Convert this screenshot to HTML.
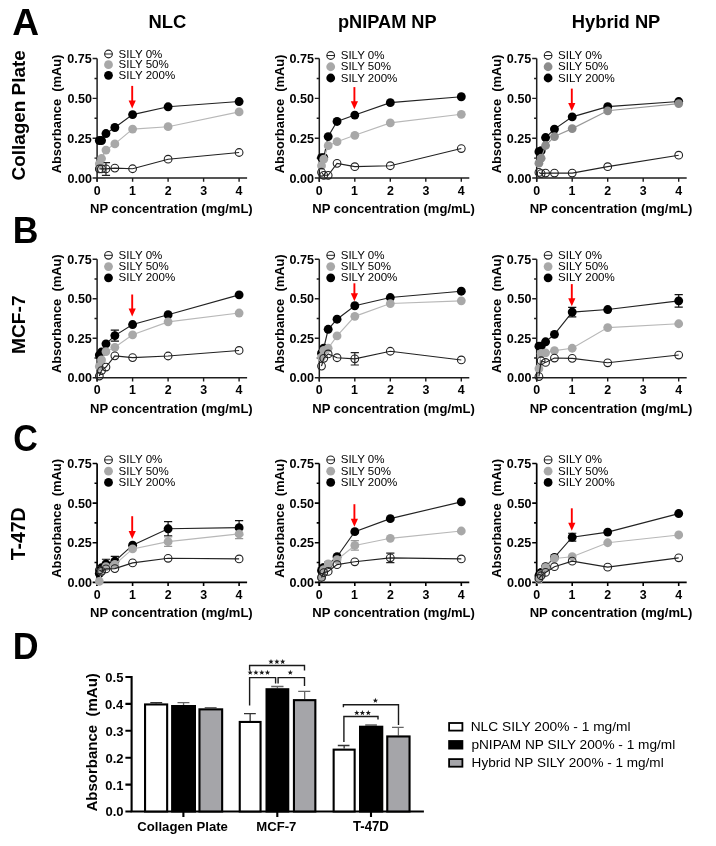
<!DOCTYPE html><html><head><meta charset="utf-8"><style>
html,body{margin:0;padding:0;background:#fff;width:716px;height:846px;overflow:hidden}
svg{display:block;will-change:transform}
text{font-family:"Liberation Sans", sans-serif;fill:#000;white-space:pre}
</style></head><body>
<svg width="716" height="846" viewBox="0 0 716 846">
<text transform="matrix(1.0096 0 0 1 12.17 34.60)" font-size="36.81" font-weight="bold">A</text>
<text transform="matrix(0.9551 0 0 1 12.79 242.70)" font-size="37.25" font-weight="bold">B</text>
<text transform="matrix(0.9191 0 0 1 13.14 450.63)" font-size="37.04" font-weight="bold">C</text>
<text transform="matrix(0.9493 0 0 1 12.77 658.80)" font-size="37.68" font-weight="bold">D</text>
<text transform="matrix(0.9687 0 0 1 148.40 28.11)" font-size="19.01" font-weight="bold">NLC</text>
<text transform="matrix(0.9807 0 0 1 337.92 27.90)" font-size="18.56" font-weight="bold">pNIPAM NP</text>
<text transform="matrix(1.0263 0 0 1 571.81 28.05)" font-size="17.86" font-weight="bold">Hybrid NP</text>
<text transform="matrix(0 -1.0210 1 0 24.72 180.46)" font-size="18.51" font-weight="bold">Collagen Plate</text>
<text transform="matrix(0 -1.0201 1 0 25.11 354.05)" font-size="18.87" font-weight="bold">MCF-7</text>
<text transform="matrix(0 -1.0009 1 0 25.30 560.29)" font-size="19.42" font-weight="bold">T-47D</text>
<path d="M97.1 58.52V181.7M97.1 178H247.1" stroke="#1e1e1e" stroke-width="1.5" fill="none"/>
<path d="M92.6 178H97.1M92.6 138.18H97.1M92.6 98.35H97.1M92.6 58.52H97.1M94.5 158.09H97.1M94.5 118.26H97.1M94.5 78.44H97.1M97.1 178V181.7M132.6 178V181.7M168.1 178V181.7M203.6 178V181.7M239.1 178V181.7" stroke="#1e1e1e" stroke-width="1.4" fill="none"/>
<text transform="matrix(1.0500 0 0 1 67.40 182.55)" font-size="12.00" font-weight="bold">0.00</text>
<text transform="matrix(1.0500 0 0 1 67.21 142.73)" font-size="12.00" font-weight="bold">0.25</text>
<text transform="matrix(1.0500 0 0 1 67.40 102.90)" font-size="12.00" font-weight="bold">0.50</text>
<text transform="matrix(1.0500 0 0 1 67.21 63.07)" font-size="12.00" font-weight="bold">0.75</text>
<text transform="matrix(1.0000 0 0 1 93.66 194.68)" font-size="12.40" font-weight="bold">0</text>
<text transform="matrix(1.0000 0 0 1 128.91 194.56)" font-size="12.40" font-weight="bold">1</text>
<text transform="matrix(1.0000 0 0 1 164.69 194.68)" font-size="12.40" font-weight="bold">2</text>
<text transform="matrix(1.0000 0 0 1 200.22 194.68)" font-size="12.40" font-weight="bold">3</text>
<text transform="matrix(1.0000 0 0 1 235.60 194.56)" font-size="12.40" font-weight="bold">4</text>
<text transform="matrix(1.0047 0 0 1 90.05 212.81)" font-size="12.98" font-weight="bold">NP concentration (mg/mL)</text>
<text transform="matrix(0 -0.9875 1 0 61.36 173.32)" font-size="13.05" font-weight="bold">Absorbance  (mAu)</text>
<circle cx="108.5" cy="54" r="3.85" fill="#fff" stroke="#222" stroke-width="1.1"/><path d="M104.65 54H112.35" stroke="#222" stroke-width="1"/>
<circle cx="108.5" cy="64.65" r="4.4" fill="#a8a8a8"/>
<circle cx="108.5" cy="75.3" r="4.4" fill="#000"/>
<text transform="matrix(1.0500 0 0 1 118.48 57.50)" font-size="11.00" fill="#262626">SILY 0%</text>
<text transform="matrix(1.0500 0 0 1 118.48 68.15)" font-size="11.00" fill="#262626">SILY 50%</text>
<text transform="matrix(1.0500 0 0 1 118.48 78.80)" font-size="11.00" fill="#262626">SILY 200%</text>
<path d="M132.2 85.9V101.4" stroke="#ff0000" stroke-width="1.9"/><path d="M128.6 100.4H135.8L132.2 108.4Z" fill="#ff0000"/>
<path d="M105.97 162.55V175.29M101.88 162.55H110.07M101.88 175.29H110.07" stroke="#222" stroke-width="1.2" fill="none"/>
<path d="M99.32 140.56L101.54 140.56L105.97 133.56L114.85 127.5L132.6 114.6L168.1 106.79L239.1 101.54" stroke="#222" stroke-width="1.15" fill="none"/>
<circle cx="99.32" cy="140.56" r="4.45" fill="#000"/>
<circle cx="101.54" cy="140.56" r="4.45" fill="#000"/>
<circle cx="105.97" cy="133.56" r="4.45" fill="#000"/>
<circle cx="114.85" cy="127.5" r="4.45" fill="#000"/>
<circle cx="132.6" cy="114.6" r="4.45" fill="#000"/>
<circle cx="168.1" cy="106.79" r="4.45" fill="#000"/>
<circle cx="239.1" cy="101.54" r="4.45" fill="#000"/>
<path d="M99.32 163.82L101.54 158.49L105.97 150.12L114.85 143.91L132.6 129.09L168.1 126.71L239.1 111.89" stroke="#b8b8b8" stroke-width="1.15" fill="none"/>
<circle cx="99.32" cy="163.82" r="4.4" fill="#a8a8a8"/>
<circle cx="101.54" cy="158.49" r="4.4" fill="#a8a8a8"/>
<circle cx="105.97" cy="150.12" r="4.4" fill="#a8a8a8"/>
<circle cx="114.85" cy="143.91" r="4.4" fill="#a8a8a8"/>
<circle cx="132.6" cy="129.09" r="4.4" fill="#a8a8a8"/>
<circle cx="168.1" cy="126.71" r="4.4" fill="#a8a8a8"/>
<circle cx="239.1" cy="111.89" r="4.4" fill="#a8a8a8"/>
<path d="M99.32 168.92L101.54 168.92L105.97 168.92L114.85 168.12L132.6 168.76L168.1 159.2L239.1 152.51" stroke="#222" stroke-width="1.15" fill="none"/>
<circle cx="99.32" cy="168.92" r="3.85" fill="none" stroke="#222" stroke-width="1.1"/>
<circle cx="101.54" cy="168.92" r="3.85" fill="none" stroke="#222" stroke-width="1.1"/>
<circle cx="105.97" cy="168.92" r="3.85" fill="none" stroke="#222" stroke-width="1.1"/>
<circle cx="114.85" cy="168.12" r="3.85" fill="none" stroke="#222" stroke-width="1.1"/>
<circle cx="132.6" cy="168.76" r="3.85" fill="none" stroke="#222" stroke-width="1.1"/>
<circle cx="168.1" cy="159.2" r="3.85" fill="none" stroke="#222" stroke-width="1.1"/>
<circle cx="239.1" cy="152.51" r="3.85" fill="none" stroke="#222" stroke-width="1.1"/>
<path d="M319.3 58.52V181.7M319.3 178H469.3" stroke="#1e1e1e" stroke-width="1.5" fill="none"/>
<path d="M314.8 178H319.3M314.8 138.18H319.3M314.8 98.35H319.3M314.8 58.52H319.3M316.7 158.09H319.3M316.7 118.26H319.3M316.7 78.44H319.3M319.3 178V181.7M354.8 178V181.7M390.3 178V181.7M425.8 178V181.7M461.3 178V181.7" stroke="#1e1e1e" stroke-width="1.4" fill="none"/>
<text transform="matrix(1.0500 0 0 1 289.60 182.55)" font-size="12.00" font-weight="bold">0.00</text>
<text transform="matrix(1.0500 0 0 1 289.41 142.73)" font-size="12.00" font-weight="bold">0.25</text>
<text transform="matrix(1.0500 0 0 1 289.60 102.90)" font-size="12.00" font-weight="bold">0.50</text>
<text transform="matrix(1.0500 0 0 1 289.41 63.07)" font-size="12.00" font-weight="bold">0.75</text>
<text transform="matrix(1.0000 0 0 1 315.86 194.68)" font-size="12.40" font-weight="bold">0</text>
<text transform="matrix(1.0000 0 0 1 351.11 194.56)" font-size="12.40" font-weight="bold">1</text>
<text transform="matrix(1.0000 0 0 1 386.89 194.68)" font-size="12.40" font-weight="bold">2</text>
<text transform="matrix(1.0000 0 0 1 422.42 194.68)" font-size="12.40" font-weight="bold">3</text>
<text transform="matrix(1.0000 0 0 1 457.80 194.56)" font-size="12.40" font-weight="bold">4</text>
<text transform="matrix(1.0047 0 0 1 312.25 212.81)" font-size="12.98" font-weight="bold">NP concentration (mg/mL)</text>
<text transform="matrix(0 -0.9875 1 0 283.56 173.32)" font-size="13.05" font-weight="bold">Absorbance  (mAu)</text>
<circle cx="330.7" cy="55.5" r="3.85" fill="#fff" stroke="#222" stroke-width="1.1"/><path d="M326.85 55.5H334.55" stroke="#222" stroke-width="1"/>
<circle cx="330.7" cy="66.75" r="4.4" fill="#a8a8a8"/>
<circle cx="330.7" cy="78" r="4.4" fill="#000"/>
<text transform="matrix(1.0500 0 0 1 340.68 58.80)" font-size="11.00" fill="#262626">SILY 0%</text>
<text transform="matrix(1.0500 0 0 1 340.68 70.15)" font-size="11.00" fill="#262626">SILY 50%</text>
<text transform="matrix(1.0500 0 0 1 340.68 81.50)" font-size="11.00" fill="#262626">SILY 200%</text>
<path d="M354.4 87.1V102.3" stroke="#ff0000" stroke-width="1.9"/><path d="M350.8 101.3H358L354.4 109.3Z" fill="#ff0000"/>
<path d="M321.52 157.61L323.74 157.61L328.18 136.58L337.05 121.45L354.8 115.08L390.3 102.65L461.3 96.76" stroke="#222" stroke-width="1.15" fill="none"/>
<circle cx="321.52" cy="157.61" r="4.45" fill="#000"/>
<circle cx="323.74" cy="157.61" r="4.45" fill="#000"/>
<circle cx="328.18" cy="136.58" r="4.45" fill="#000"/>
<circle cx="337.05" cy="121.45" r="4.45" fill="#000"/>
<circle cx="354.8" cy="115.08" r="4.45" fill="#000"/>
<circle cx="390.3" cy="102.65" r="4.45" fill="#000"/>
<circle cx="461.3" cy="96.76" r="4.45" fill="#000"/>
<path d="M321.52 165.73L323.74 159.2L328.18 145.66L337.05 141.68L354.8 135.31L390.3 122.88L461.3 114.28" stroke="#b8b8b8" stroke-width="1.15" fill="none"/>
<circle cx="321.52" cy="165.73" r="4.4" fill="#a8a8a8"/>
<circle cx="323.74" cy="159.2" r="4.4" fill="#a8a8a8"/>
<circle cx="328.18" cy="145.66" r="4.4" fill="#a8a8a8"/>
<circle cx="337.05" cy="141.68" r="4.4" fill="#a8a8a8"/>
<circle cx="354.8" cy="135.31" r="4.4" fill="#a8a8a8"/>
<circle cx="390.3" cy="122.88" r="4.4" fill="#a8a8a8"/>
<circle cx="461.3" cy="114.28" r="4.4" fill="#a8a8a8"/>
<path d="M321.52 172.27L323.74 175.29L328.18 175.29L337.05 163.34L354.8 166.69L390.3 165.73L461.3 148.53" stroke="#222" stroke-width="1.15" fill="none"/>
<circle cx="321.52" cy="172.27" r="3.85" fill="none" stroke="#222" stroke-width="1.1"/>
<circle cx="323.74" cy="175.29" r="3.85" fill="none" stroke="#222" stroke-width="1.1"/>
<circle cx="328.18" cy="175.29" r="3.85" fill="none" stroke="#222" stroke-width="1.1"/>
<circle cx="337.05" cy="163.34" r="3.85" fill="none" stroke="#222" stroke-width="1.1"/>
<circle cx="354.8" cy="166.69" r="3.85" fill="none" stroke="#222" stroke-width="1.1"/>
<circle cx="390.3" cy="165.73" r="3.85" fill="none" stroke="#222" stroke-width="1.1"/>
<circle cx="461.3" cy="148.53" r="3.85" fill="none" stroke="#222" stroke-width="1.1"/>
<path d="M536.7 58.52V181.7M536.7 178H686.7" stroke="#1e1e1e" stroke-width="1.5" fill="none"/>
<path d="M532.2 178H536.7M532.2 138.18H536.7M532.2 98.35H536.7M532.2 58.52H536.7M534.1 158.09H536.7M534.1 118.26H536.7M534.1 78.44H536.7M536.7 178V181.7M572.2 178V181.7M607.7 178V181.7M643.2 178V181.7M678.7 178V181.7" stroke="#1e1e1e" stroke-width="1.4" fill="none"/>
<text transform="matrix(1.0500 0 0 1 507.00 182.55)" font-size="12.00" font-weight="bold">0.00</text>
<text transform="matrix(1.0500 0 0 1 506.81 142.73)" font-size="12.00" font-weight="bold">0.25</text>
<text transform="matrix(1.0500 0 0 1 507.00 102.90)" font-size="12.00" font-weight="bold">0.50</text>
<text transform="matrix(1.0500 0 0 1 506.81 63.07)" font-size="12.00" font-weight="bold">0.75</text>
<text transform="matrix(1.0000 0 0 1 533.26 194.68)" font-size="12.40" font-weight="bold">0</text>
<text transform="matrix(1.0000 0 0 1 568.51 194.56)" font-size="12.40" font-weight="bold">1</text>
<text transform="matrix(1.0000 0 0 1 604.29 194.68)" font-size="12.40" font-weight="bold">2</text>
<text transform="matrix(1.0000 0 0 1 639.82 194.68)" font-size="12.40" font-weight="bold">3</text>
<text transform="matrix(1.0000 0 0 1 675.20 194.56)" font-size="12.40" font-weight="bold">4</text>
<text transform="matrix(1.0047 0 0 1 529.65 212.81)" font-size="12.98" font-weight="bold">NP concentration (mg/mL)</text>
<text transform="matrix(0 -0.9875 1 0 500.96 173.32)" font-size="13.05" font-weight="bold">Absorbance  (mAu)</text>
<circle cx="548.1" cy="55.5" r="3.85" fill="#fff" stroke="#222" stroke-width="1.1"/><path d="M544.25 55.5H551.95" stroke="#222" stroke-width="1"/>
<circle cx="548.1" cy="66.75" r="4.4" fill="#8c8c8c"/>
<circle cx="548.1" cy="78" r="4.4" fill="#000"/>
<text transform="matrix(1.0500 0 0 1 558.08 58.80)" font-size="11.00" fill="#262626">SILY 0%</text>
<text transform="matrix(1.0500 0 0 1 558.08 70.15)" font-size="11.00" fill="#262626">SILY 50%</text>
<text transform="matrix(1.0500 0 0 1 558.08 81.50)" font-size="11.00" fill="#262626">SILY 200%</text>
<path d="M571.8 88.6V104" stroke="#ff0000" stroke-width="1.9"/><path d="M568.2 103H575.4L571.8 111Z" fill="#ff0000"/>
<path d="M538.92 151.72L541.14 150.76L545.58 137.54L554.45 129.09L572.2 116.83L607.7 106.63L678.7 101.54" stroke="#222" stroke-width="1.15" fill="none"/>
<circle cx="538.92" cy="151.72" r="4.45" fill="#000"/>
<circle cx="541.14" cy="150.76" r="4.45" fill="#000"/>
<circle cx="545.58" cy="137.54" r="4.45" fill="#000"/>
<circle cx="554.45" cy="129.09" r="4.45" fill="#000"/>
<circle cx="572.2" cy="116.83" r="4.45" fill="#000"/>
<circle cx="607.7" cy="106.63" r="4.45" fill="#000"/>
<circle cx="678.7" cy="101.54" r="4.45" fill="#000"/>
<path d="M538.92 163.19L541.14 158.25L545.58 145.5L554.45 136.58L572.2 128.62L607.7 110.78L678.7 103.61" stroke="#999" stroke-width="1.15" fill="none"/>
<circle cx="538.92" cy="163.19" r="4.4" fill="#8c8c8c"/>
<circle cx="541.14" cy="158.25" r="4.4" fill="#8c8c8c"/>
<circle cx="545.58" cy="145.5" r="4.4" fill="#8c8c8c"/>
<circle cx="554.45" cy="136.58" r="4.4" fill="#8c8c8c"/>
<circle cx="572.2" cy="128.62" r="4.4" fill="#8c8c8c"/>
<circle cx="607.7" cy="110.78" r="4.4" fill="#8c8c8c"/>
<circle cx="678.7" cy="103.61" r="4.4" fill="#8c8c8c"/>
<path d="M538.92 172.42L541.14 173.54L545.58 173.06L554.45 173.06L572.2 173.06L607.7 166.69L678.7 155.22" stroke="#222" stroke-width="1.15" fill="none"/>
<circle cx="538.92" cy="172.42" r="3.85" fill="none" stroke="#222" stroke-width="1.1"/>
<circle cx="541.14" cy="173.54" r="3.85" fill="none" stroke="#222" stroke-width="1.1"/>
<circle cx="545.58" cy="173.06" r="3.85" fill="none" stroke="#222" stroke-width="1.1"/>
<circle cx="554.45" cy="173.06" r="3.85" fill="none" stroke="#222" stroke-width="1.1"/>
<circle cx="572.2" cy="173.06" r="3.85" fill="none" stroke="#222" stroke-width="1.1"/>
<circle cx="607.7" cy="166.69" r="3.85" fill="none" stroke="#222" stroke-width="1.1"/>
<circle cx="678.7" cy="155.22" r="3.85" fill="none" stroke="#222" stroke-width="1.1"/>
<path d="M97.1 259.3V381.5M97.1 377.8H247.1" stroke="#1e1e1e" stroke-width="1.5" fill="none"/>
<path d="M92.6 377.8H97.1M92.6 338.3H97.1M92.6 298.8H97.1M92.6 259.3H97.1M94.5 358.05H97.1M94.5 318.55H97.1M94.5 279.05H97.1M97.1 377.8V381.5M132.6 377.8V381.5M168.1 377.8V381.5M203.6 377.8V381.5M239.1 377.8V381.5" stroke="#1e1e1e" stroke-width="1.4" fill="none"/>
<text transform="matrix(1.0500 0 0 1 67.40 382.35)" font-size="12.00" font-weight="bold">0.00</text>
<text transform="matrix(1.0500 0 0 1 67.21 342.85)" font-size="12.00" font-weight="bold">0.25</text>
<text transform="matrix(1.0500 0 0 1 67.40 303.35)" font-size="12.00" font-weight="bold">0.50</text>
<text transform="matrix(1.0500 0 0 1 67.21 263.85)" font-size="12.00" font-weight="bold">0.75</text>
<text transform="matrix(1.0000 0 0 1 93.66 394.48)" font-size="12.40" font-weight="bold">0</text>
<text transform="matrix(1.0000 0 0 1 128.91 394.36)" font-size="12.40" font-weight="bold">1</text>
<text transform="matrix(1.0000 0 0 1 164.69 394.48)" font-size="12.40" font-weight="bold">2</text>
<text transform="matrix(1.0000 0 0 1 200.22 394.48)" font-size="12.40" font-weight="bold">3</text>
<text transform="matrix(1.0000 0 0 1 235.60 394.36)" font-size="12.40" font-weight="bold">4</text>
<text transform="matrix(1.0047 0 0 1 90.05 412.61)" font-size="12.98" font-weight="bold">NP concentration (mg/mL)</text>
<text transform="matrix(0 -0.9875 1 0 61.36 373.12)" font-size="13.05" font-weight="bold">Absorbance  (mAu)</text>
<circle cx="108.5" cy="255.3" r="3.85" fill="#fff" stroke="#222" stroke-width="1.1"/><path d="M104.65 255.3H112.35" stroke="#222" stroke-width="1"/>
<circle cx="108.5" cy="266.55" r="4.4" fill="#a8a8a8"/>
<circle cx="108.5" cy="277.8" r="4.4" fill="#000"/>
<text transform="matrix(1.0500 0 0 1 118.48 258.60)" font-size="11.00" fill="#262626">SILY 0%</text>
<text transform="matrix(1.0500 0 0 1 118.48 269.95)" font-size="11.00" fill="#262626">SILY 50%</text>
<text transform="matrix(1.0500 0 0 1 118.48 281.30)" font-size="11.00" fill="#262626">SILY 200%</text>
<path d="M132.2 294.5V309.6" stroke="#ff0000" stroke-width="1.9"/><path d="M128.6 308.6H135.8L132.2 316.6Z" fill="#ff0000"/>
<path d="M114.85 330.08V341.14M110.75 330.08H118.95M110.75 341.14H118.95" stroke="#111" stroke-width="1.2" fill="none"/>
<path d="M99.32 355.05L101.54 352.05L105.97 343.83L114.85 335.61L132.6 324.55L168.1 314.76L239.1 294.85" stroke="#222" stroke-width="1.15" fill="none"/>
<circle cx="99.32" cy="355.05" r="4.45" fill="#000"/>
<circle cx="101.54" cy="352.05" r="4.45" fill="#000"/>
<circle cx="105.97" cy="343.83" r="4.45" fill="#000"/>
<circle cx="114.85" cy="335.61" r="4.45" fill="#000"/>
<circle cx="132.6" cy="324.55" r="4.45" fill="#000"/>
<circle cx="168.1" cy="314.76" r="4.45" fill="#000"/>
<circle cx="239.1" cy="294.85" r="4.45" fill="#000"/>
<path d="M99.32 366.42L101.54 359.95L105.97 351.57L114.85 347.31L132.6 334.82L168.1 321.87L239.1 313.02" stroke="#b8b8b8" stroke-width="1.15" fill="none"/>
<circle cx="99.32" cy="366.42" r="4.4" fill="#a8a8a8"/>
<circle cx="101.54" cy="359.95" r="4.4" fill="#a8a8a8"/>
<circle cx="105.97" cy="351.57" r="4.4" fill="#a8a8a8"/>
<circle cx="114.85" cy="347.31" r="4.4" fill="#a8a8a8"/>
<circle cx="132.6" cy="334.82" r="4.4" fill="#a8a8a8"/>
<circle cx="168.1" cy="321.87" r="4.4" fill="#a8a8a8"/>
<circle cx="239.1" cy="313.02" r="4.4" fill="#a8a8a8"/>
<path d="M99.32 376.06L101.54 370.53L105.97 367.06L114.85 355.84L132.6 357.58L168.1 356L239.1 350.47" stroke="#222" stroke-width="1.15" fill="none"/>
<circle cx="99.32" cy="376.06" r="3.85" fill="none" stroke="#222" stroke-width="1.1"/>
<circle cx="101.54" cy="370.53" r="3.85" fill="none" stroke="#222" stroke-width="1.1"/>
<circle cx="105.97" cy="367.06" r="3.85" fill="none" stroke="#222" stroke-width="1.1"/>
<circle cx="114.85" cy="355.84" r="3.85" fill="none" stroke="#222" stroke-width="1.1"/>
<circle cx="132.6" cy="357.58" r="3.85" fill="none" stroke="#222" stroke-width="1.1"/>
<circle cx="168.1" cy="356" r="3.85" fill="none" stroke="#222" stroke-width="1.1"/>
<circle cx="239.1" cy="350.47" r="3.85" fill="none" stroke="#222" stroke-width="1.1"/>
<path d="M319.3 259.3V381.5M319.3 377.8H469.3" stroke="#1e1e1e" stroke-width="1.5" fill="none"/>
<path d="M314.8 377.8H319.3M314.8 338.3H319.3M314.8 298.8H319.3M314.8 259.3H319.3M316.7 358.05H319.3M316.7 318.55H319.3M316.7 279.05H319.3M319.3 377.8V381.5M354.8 377.8V381.5M390.3 377.8V381.5M425.8 377.8V381.5M461.3 377.8V381.5" stroke="#1e1e1e" stroke-width="1.4" fill="none"/>
<text transform="matrix(1.0500 0 0 1 289.60 382.35)" font-size="12.00" font-weight="bold">0.00</text>
<text transform="matrix(1.0500 0 0 1 289.41 342.85)" font-size="12.00" font-weight="bold">0.25</text>
<text transform="matrix(1.0500 0 0 1 289.60 303.35)" font-size="12.00" font-weight="bold">0.50</text>
<text transform="matrix(1.0500 0 0 1 289.41 263.85)" font-size="12.00" font-weight="bold">0.75</text>
<text transform="matrix(1.0000 0 0 1 315.86 394.48)" font-size="12.40" font-weight="bold">0</text>
<text transform="matrix(1.0000 0 0 1 351.11 394.36)" font-size="12.40" font-weight="bold">1</text>
<text transform="matrix(1.0000 0 0 1 386.89 394.48)" font-size="12.40" font-weight="bold">2</text>
<text transform="matrix(1.0000 0 0 1 422.42 394.48)" font-size="12.40" font-weight="bold">3</text>
<text transform="matrix(1.0000 0 0 1 457.80 394.36)" font-size="12.40" font-weight="bold">4</text>
<text transform="matrix(1.0047 0 0 1 312.25 412.61)" font-size="12.98" font-weight="bold">NP concentration (mg/mL)</text>
<text transform="matrix(0 -0.9875 1 0 283.56 373.12)" font-size="13.05" font-weight="bold">Absorbance  (mAu)</text>
<circle cx="330.7" cy="255.3" r="3.85" fill="#fff" stroke="#222" stroke-width="1.1"/><path d="M326.85 255.3H334.55" stroke="#222" stroke-width="1"/>
<circle cx="330.7" cy="266.55" r="4.4" fill="#a8a8a8"/>
<circle cx="330.7" cy="277.8" r="4.4" fill="#000"/>
<text transform="matrix(1.0500 0 0 1 340.68 258.60)" font-size="11.00" fill="#262626">SILY 0%</text>
<text transform="matrix(1.0500 0 0 1 340.68 269.95)" font-size="11.00" fill="#262626">SILY 50%</text>
<text transform="matrix(1.0500 0 0 1 340.68 281.30)" font-size="11.00" fill="#262626">SILY 200%</text>
<path d="M354.4 283.3V294.3" stroke="#ff0000" stroke-width="1.9"/><path d="M350.8 293.3H358L354.4 301.3Z" fill="#ff0000"/>
<path d="M354.8 352.68V365M350.7 352.68H358.9M350.7 365H358.9" stroke="#222" stroke-width="1.2" fill="none"/>
<path d="M321.52 353.15L323.74 348.25L328.18 329.29L337.05 319.18L354.8 305.75L390.3 297.54L461.3 291.22" stroke="#222" stroke-width="1.15" fill="none"/>
<circle cx="321.52" cy="353.15" r="4.45" fill="#000"/>
<circle cx="323.74" cy="348.25" r="4.45" fill="#000"/>
<circle cx="328.18" cy="329.29" r="4.45" fill="#000"/>
<circle cx="337.05" cy="319.18" r="4.45" fill="#000"/>
<circle cx="354.8" cy="305.75" r="4.45" fill="#000"/>
<circle cx="390.3" cy="297.54" r="4.45" fill="#000"/>
<circle cx="461.3" cy="291.22" r="4.45" fill="#000"/>
<path d="M321.52 357.26L323.74 350.47L328.18 348.25L337.05 335.93L354.8 316.34L390.3 303.54L461.3 300.85" stroke="#b8b8b8" stroke-width="1.15" fill="none"/>
<circle cx="321.52" cy="357.26" r="4.4" fill="#a8a8a8"/>
<circle cx="323.74" cy="350.47" r="4.4" fill="#a8a8a8"/>
<circle cx="328.18" cy="348.25" r="4.4" fill="#a8a8a8"/>
<circle cx="337.05" cy="335.93" r="4.4" fill="#a8a8a8"/>
<circle cx="354.8" cy="316.34" r="4.4" fill="#a8a8a8"/>
<circle cx="390.3" cy="303.54" r="4.4" fill="#a8a8a8"/>
<circle cx="461.3" cy="300.85" r="4.4" fill="#a8a8a8"/>
<path d="M321.52 366.11L323.74 358.37L328.18 353.94L337.05 357.73L354.8 358.84L390.3 351.26L461.3 359.95" stroke="#222" stroke-width="1.15" fill="none"/>
<circle cx="321.52" cy="366.11" r="3.85" fill="none" stroke="#222" stroke-width="1.1"/>
<circle cx="323.74" cy="358.37" r="3.85" fill="none" stroke="#222" stroke-width="1.1"/>
<circle cx="328.18" cy="353.94" r="3.85" fill="none" stroke="#222" stroke-width="1.1"/>
<circle cx="337.05" cy="357.73" r="3.85" fill="none" stroke="#222" stroke-width="1.1"/>
<circle cx="354.8" cy="358.84" r="3.85" fill="none" stroke="#222" stroke-width="1.1"/>
<circle cx="390.3" cy="351.26" r="3.85" fill="none" stroke="#222" stroke-width="1.1"/>
<circle cx="461.3" cy="359.95" r="3.85" fill="none" stroke="#222" stroke-width="1.1"/>
<path d="M536.7 259.3V381.5M536.7 377.8H686.7" stroke="#1e1e1e" stroke-width="1.5" fill="none"/>
<path d="M532.2 377.8H536.7M532.2 338.3H536.7M532.2 298.8H536.7M532.2 259.3H536.7M534.1 358.05H536.7M534.1 318.55H536.7M534.1 279.05H536.7M536.7 377.8V381.5M572.2 377.8V381.5M607.7 377.8V381.5M643.2 377.8V381.5M678.7 377.8V381.5" stroke="#1e1e1e" stroke-width="1.4" fill="none"/>
<text transform="matrix(1.0500 0 0 1 507.00 382.35)" font-size="12.00" font-weight="bold">0.00</text>
<text transform="matrix(1.0500 0 0 1 506.81 342.85)" font-size="12.00" font-weight="bold">0.25</text>
<text transform="matrix(1.0500 0 0 1 507.00 303.35)" font-size="12.00" font-weight="bold">0.50</text>
<text transform="matrix(1.0500 0 0 1 506.81 263.85)" font-size="12.00" font-weight="bold">0.75</text>
<text transform="matrix(1.0000 0 0 1 533.26 394.48)" font-size="12.40" font-weight="bold">0</text>
<text transform="matrix(1.0000 0 0 1 568.51 394.36)" font-size="12.40" font-weight="bold">1</text>
<text transform="matrix(1.0000 0 0 1 604.29 394.48)" font-size="12.40" font-weight="bold">2</text>
<text transform="matrix(1.0000 0 0 1 639.82 394.48)" font-size="12.40" font-weight="bold">3</text>
<text transform="matrix(1.0000 0 0 1 675.20 394.36)" font-size="12.40" font-weight="bold">4</text>
<text transform="matrix(1.0047 0 0 1 529.65 412.61)" font-size="12.98" font-weight="bold">NP concentration (mg/mL)</text>
<text transform="matrix(0 -0.9875 1 0 500.96 373.12)" font-size="13.05" font-weight="bold">Absorbance  (mAu)</text>
<circle cx="548.1" cy="255.3" r="3.85" fill="#fff" stroke="#222" stroke-width="1.1"/><path d="M544.25 255.3H551.95" stroke="#222" stroke-width="1"/>
<circle cx="548.1" cy="266.55" r="4.4" fill="#a8a8a8"/>
<circle cx="548.1" cy="277.8" r="4.4" fill="#000"/>
<text transform="matrix(1.0500 0 0 1 558.08 258.60)" font-size="11.00" fill="#262626">SILY 0%</text>
<text transform="matrix(1.0500 0 0 1 558.08 269.95)" font-size="11.00" fill="#262626">SILY 50%</text>
<text transform="matrix(1.0500 0 0 1 558.08 281.30)" font-size="11.00" fill="#262626">SILY 200%</text>
<path d="M571.8 284.1V299.3" stroke="#ff0000" stroke-width="1.9"/><path d="M568.2 298.3H575.4L571.8 306.3Z" fill="#ff0000"/>
<path d="M572.2 307.33V316.81M568.1 307.33H576.3M568.1 316.81H576.3" stroke="#111" stroke-width="1.2" fill="none"/>
<path d="M678.7 294.53V307.17M674.6 294.53H682.8M674.6 307.17H682.8" stroke="#111" stroke-width="1.2" fill="none"/>
<path d="M538.92 346.2L541.14 346.2L545.58 341.78L554.45 334.35L572.2 312.07L607.7 309.54L678.7 300.85" stroke="#222" stroke-width="1.15" fill="none"/>
<circle cx="538.92" cy="346.2" r="4.45" fill="#000"/>
<circle cx="541.14" cy="346.2" r="4.45" fill="#000"/>
<circle cx="545.58" cy="341.78" r="4.45" fill="#000"/>
<circle cx="554.45" cy="334.35" r="4.45" fill="#000"/>
<circle cx="572.2" cy="312.07" r="4.45" fill="#000"/>
<circle cx="607.7" cy="309.54" r="4.45" fill="#000"/>
<circle cx="678.7" cy="300.85" r="4.45" fill="#000"/>
<path d="M538.92 368.64L541.14 353.31L545.58 352.84L554.45 350.62L572.2 348.25L607.7 327.56L678.7 323.76" stroke="#b8b8b8" stroke-width="1.15" fill="none"/>
<circle cx="538.92" cy="368.64" r="4.4" fill="#a8a8a8"/>
<circle cx="541.14" cy="353.31" r="4.4" fill="#a8a8a8"/>
<circle cx="545.58" cy="352.84" r="4.4" fill="#a8a8a8"/>
<circle cx="554.45" cy="350.62" r="4.4" fill="#a8a8a8"/>
<circle cx="572.2" cy="348.25" r="4.4" fill="#a8a8a8"/>
<circle cx="607.7" cy="327.56" r="4.4" fill="#a8a8a8"/>
<circle cx="678.7" cy="323.76" r="4.4" fill="#a8a8a8"/>
<path d="M538.92 376.54L541.14 360.74L545.58 362.47L554.45 358.05L572.2 358.37L607.7 362.79L678.7 355.05" stroke="#222" stroke-width="1.15" fill="none"/>
<circle cx="538.92" cy="376.54" r="3.85" fill="none" stroke="#222" stroke-width="1.1"/>
<circle cx="541.14" cy="360.74" r="3.85" fill="none" stroke="#222" stroke-width="1.1"/>
<circle cx="545.58" cy="362.47" r="3.85" fill="none" stroke="#222" stroke-width="1.1"/>
<circle cx="554.45" cy="358.05" r="3.85" fill="none" stroke="#222" stroke-width="1.1"/>
<circle cx="572.2" cy="358.37" r="3.85" fill="none" stroke="#222" stroke-width="1.1"/>
<circle cx="607.7" cy="362.79" r="3.85" fill="none" stroke="#222" stroke-width="1.1"/>
<circle cx="678.7" cy="355.05" r="3.85" fill="none" stroke="#222" stroke-width="1.1"/>
<path d="M97.1 463.45V586.1M97.1 582.4H247.1" stroke="#000" stroke-width="1.7" fill="none"/>
<path d="M92.6 582.4H97.1M92.6 542.75H97.1M92.6 503.1H97.1M92.6 463.45H97.1M94.5 562.57H97.1M94.5 522.92H97.1M94.5 483.27H97.1M97.1 582.4V586.1M132.6 582.4V586.1M168.1 582.4V586.1M203.6 582.4V586.1M239.1 582.4V586.1" stroke="#000" stroke-width="1.5999999999999999" fill="none"/>
<text transform="matrix(1.0500 0 0 1 67.40 586.95)" font-size="12.00" font-weight="bold">0.00</text>
<text transform="matrix(1.0500 0 0 1 67.21 547.30)" font-size="12.00" font-weight="bold">0.25</text>
<text transform="matrix(1.0500 0 0 1 67.40 507.65)" font-size="12.00" font-weight="bold">0.50</text>
<text transform="matrix(1.0500 0 0 1 67.21 468.00)" font-size="12.00" font-weight="bold">0.75</text>
<text transform="matrix(1.0000 0 0 1 93.66 599.08)" font-size="12.40" font-weight="bold">0</text>
<text transform="matrix(1.0000 0 0 1 128.91 598.96)" font-size="12.40" font-weight="bold">1</text>
<text transform="matrix(1.0000 0 0 1 164.69 599.08)" font-size="12.40" font-weight="bold">2</text>
<text transform="matrix(1.0000 0 0 1 200.22 599.08)" font-size="12.40" font-weight="bold">3</text>
<text transform="matrix(1.0000 0 0 1 235.60 598.96)" font-size="12.40" font-weight="bold">4</text>
<text transform="matrix(1.0047 0 0 1 90.05 617.21)" font-size="12.98" font-weight="bold">NP concentration (mg/mL)</text>
<text transform="matrix(0 -0.9875 1 0 61.36 577.72)" font-size="13.05" font-weight="bold">Absorbance  (mAu)</text>
<circle cx="108.5" cy="459.9" r="3.85" fill="#fff" stroke="#222" stroke-width="1.1"/><path d="M104.65 459.9H112.35" stroke="#222" stroke-width="1"/>
<circle cx="108.5" cy="471.15" r="4.4" fill="#a8a8a8"/>
<circle cx="108.5" cy="482.4" r="4.4" fill="#000"/>
<text transform="matrix(1.0500 0 0 1 118.48 463.20)" font-size="11.00" fill="#262626">SILY 0%</text>
<text transform="matrix(1.0500 0 0 1 118.48 474.55)" font-size="11.00" fill="#262626">SILY 50%</text>
<text transform="matrix(1.0500 0 0 1 118.48 485.90)" font-size="11.00" fill="#262626">SILY 200%</text>
<path d="M132.2 516.2V532" stroke="#ff0000" stroke-width="1.9"/><path d="M128.6 531H135.8L132.2 539Z" fill="#ff0000"/>
<path d="M105.97 559.24V568.76M101.88 559.24H110.07M101.88 568.76H110.07" stroke="#111" stroke-width="1.2" fill="none"/>
<path d="M114.85 556.39V565.91M110.75 556.39H118.95M110.75 565.91H118.95" stroke="#111" stroke-width="1.2" fill="none"/>
<path d="M168.1 521.66V535.93M164 521.66H172.2M164 535.93H172.2" stroke="#111" stroke-width="1.2" fill="none"/>
<path d="M239.1 520.55V534.82M235 520.55H243.2M235 534.82H243.2" stroke="#111" stroke-width="1.2" fill="none"/>
<path d="M168.1 536.88V546.4M164 536.88H172.2M164 546.4H172.2" stroke="#999" stroke-width="1.2" fill="none"/>
<path d="M239.1 529.11V538.63M235 529.11H243.2M235 538.63H243.2" stroke="#999" stroke-width="1.2" fill="none"/>
<path d="M99.32 573.52L101.54 567.81L105.97 564L114.85 561.15L132.6 545.13L168.1 528.79L239.1 527.68" stroke="#222" stroke-width="1.15" fill="none"/>
<circle cx="99.32" cy="573.52" r="4.45" fill="#000"/>
<circle cx="101.54" cy="567.81" r="4.45" fill="#000"/>
<circle cx="105.97" cy="564" r="4.45" fill="#000"/>
<circle cx="114.85" cy="561.15" r="4.45" fill="#000"/>
<circle cx="132.6" cy="545.13" r="4.45" fill="#000"/>
<circle cx="168.1" cy="528.79" r="4.45" fill="#000"/>
<circle cx="239.1" cy="527.68" r="4.45" fill="#000"/>
<path d="M99.32 581.29L101.54 571.3L105.97 566.7L114.85 564.48L132.6 548.94L168.1 541.64L239.1 533.87" stroke="#b8b8b8" stroke-width="1.15" fill="none"/>
<circle cx="99.32" cy="581.29" r="4.4" fill="#a8a8a8"/>
<circle cx="101.54" cy="571.3" r="4.4" fill="#a8a8a8"/>
<circle cx="105.97" cy="566.7" r="4.4" fill="#a8a8a8"/>
<circle cx="114.85" cy="564.48" r="4.4" fill="#a8a8a8"/>
<circle cx="132.6" cy="548.94" r="4.4" fill="#a8a8a8"/>
<circle cx="168.1" cy="541.64" r="4.4" fill="#a8a8a8"/>
<circle cx="239.1" cy="533.87" r="4.4" fill="#a8a8a8"/>
<path d="M99.32 570.03L101.54 571.3L105.97 568.92L114.85 568.6L132.6 562.89L168.1 558.29L239.1 558.93" stroke="#222" stroke-width="1.15" fill="none"/>
<circle cx="99.32" cy="570.03" r="3.85" fill="none" stroke="#222" stroke-width="1.1"/>
<circle cx="101.54" cy="571.3" r="3.85" fill="none" stroke="#222" stroke-width="1.1"/>
<circle cx="105.97" cy="568.92" r="3.85" fill="none" stroke="#222" stroke-width="1.1"/>
<circle cx="114.85" cy="568.6" r="3.85" fill="none" stroke="#222" stroke-width="1.1"/>
<circle cx="132.6" cy="562.89" r="3.85" fill="none" stroke="#222" stroke-width="1.1"/>
<circle cx="168.1" cy="558.29" r="3.85" fill="none" stroke="#222" stroke-width="1.1"/>
<circle cx="239.1" cy="558.93" r="3.85" fill="none" stroke="#222" stroke-width="1.1"/>
<path d="M319.3 463.45V586.1M319.3 582.4H469.3" stroke="#000" stroke-width="1.7" fill="none"/>
<path d="M314.8 582.4H319.3M314.8 542.75H319.3M314.8 503.1H319.3M314.8 463.45H319.3M316.7 562.57H319.3M316.7 522.92H319.3M316.7 483.27H319.3M319.3 582.4V586.1M354.8 582.4V586.1M390.3 582.4V586.1M425.8 582.4V586.1M461.3 582.4V586.1" stroke="#000" stroke-width="1.5999999999999999" fill="none"/>
<text transform="matrix(1.0500 0 0 1 289.60 586.95)" font-size="12.00" font-weight="bold">0.00</text>
<text transform="matrix(1.0500 0 0 1 289.41 547.30)" font-size="12.00" font-weight="bold">0.25</text>
<text transform="matrix(1.0500 0 0 1 289.60 507.65)" font-size="12.00" font-weight="bold">0.50</text>
<text transform="matrix(1.0500 0 0 1 289.41 468.00)" font-size="12.00" font-weight="bold">0.75</text>
<text transform="matrix(1.0000 0 0 1 315.86 599.08)" font-size="12.40" font-weight="bold">0</text>
<text transform="matrix(1.0000 0 0 1 351.11 598.96)" font-size="12.40" font-weight="bold">1</text>
<text transform="matrix(1.0000 0 0 1 386.89 599.08)" font-size="12.40" font-weight="bold">2</text>
<text transform="matrix(1.0000 0 0 1 422.42 599.08)" font-size="12.40" font-weight="bold">3</text>
<text transform="matrix(1.0000 0 0 1 457.80 598.96)" font-size="12.40" font-weight="bold">4</text>
<text transform="matrix(1.0047 0 0 1 312.25 617.21)" font-size="12.98" font-weight="bold">NP concentration (mg/mL)</text>
<text transform="matrix(0 -0.9875 1 0 283.56 577.72)" font-size="13.05" font-weight="bold">Absorbance  (mAu)</text>
<circle cx="330.7" cy="459.9" r="3.85" fill="#fff" stroke="#222" stroke-width="1.1"/><path d="M326.85 459.9H334.55" stroke="#222" stroke-width="1"/>
<circle cx="330.7" cy="471.15" r="4.4" fill="#a8a8a8"/>
<circle cx="330.7" cy="482.4" r="4.4" fill="#000"/>
<text transform="matrix(1.0500 0 0 1 340.68 463.20)" font-size="11.00" fill="#262626">SILY 0%</text>
<text transform="matrix(1.0500 0 0 1 340.68 474.55)" font-size="11.00" fill="#262626">SILY 50%</text>
<text transform="matrix(1.0500 0 0 1 340.68 485.90)" font-size="11.00" fill="#262626">SILY 200%</text>
<path d="M354.4 504.2V519.7" stroke="#ff0000" stroke-width="1.9"/><path d="M350.8 518.7H358L354.4 526.7Z" fill="#ff0000"/>
<path d="M354.8 540.69V550.2M350.7 540.69H358.9M350.7 550.2H358.9" stroke="#999" stroke-width="1.2" fill="none"/>
<path d="M390.3 553.06V562.58M386.2 553.06H394.4M386.2 562.58H394.4" stroke="#222" stroke-width="1.2" fill="none"/>
<path d="M321.52 570.5L323.74 567.33L328.18 564.48L337.05 556.71L354.8 531.65L390.3 518.64L461.3 501.83" stroke="#222" stroke-width="1.15" fill="none"/>
<circle cx="321.52" cy="570.5" r="4.45" fill="#000"/>
<circle cx="323.74" cy="567.33" r="4.45" fill="#000"/>
<circle cx="328.18" cy="564.48" r="4.45" fill="#000"/>
<circle cx="337.05" cy="556.71" r="4.45" fill="#000"/>
<circle cx="354.8" cy="531.65" r="4.45" fill="#000"/>
<circle cx="390.3" cy="518.64" r="4.45" fill="#000"/>
<circle cx="461.3" cy="501.83" r="4.45" fill="#000"/>
<path d="M321.52 577.64L323.74 569.71L328.18 563.84L337.05 559.72L354.8 545.45L390.3 538.31L461.3 531.01" stroke="#b8b8b8" stroke-width="1.15" fill="none"/>
<circle cx="321.52" cy="577.64" r="4.4" fill="#a8a8a8"/>
<circle cx="323.74" cy="569.71" r="4.4" fill="#a8a8a8"/>
<circle cx="328.18" cy="563.84" r="4.4" fill="#a8a8a8"/>
<circle cx="337.05" cy="559.72" r="4.4" fill="#a8a8a8"/>
<circle cx="354.8" cy="545.45" r="4.4" fill="#a8a8a8"/>
<circle cx="390.3" cy="538.31" r="4.4" fill="#a8a8a8"/>
<circle cx="461.3" cy="531.01" r="4.4" fill="#a8a8a8"/>
<path d="M321.52 577.48L323.74 572.57L328.18 571.46L337.05 564.64L354.8 561.78L390.3 557.82L461.3 558.93" stroke="#222" stroke-width="1.15" fill="none"/>
<circle cx="321.52" cy="577.48" r="3.85" fill="none" stroke="#222" stroke-width="1.1"/>
<circle cx="323.74" cy="572.57" r="3.85" fill="none" stroke="#222" stroke-width="1.1"/>
<circle cx="328.18" cy="571.46" r="3.85" fill="none" stroke="#222" stroke-width="1.1"/>
<circle cx="337.05" cy="564.64" r="3.85" fill="none" stroke="#222" stroke-width="1.1"/>
<circle cx="354.8" cy="561.78" r="3.85" fill="none" stroke="#222" stroke-width="1.1"/>
<circle cx="390.3" cy="557.82" r="3.85" fill="none" stroke="#222" stroke-width="1.1"/>
<circle cx="461.3" cy="558.93" r="3.85" fill="none" stroke="#222" stroke-width="1.1"/>
<path d="M536.7 463.45V586.1M536.7 582.4H686.7" stroke="#000" stroke-width="1.7" fill="none"/>
<path d="M532.2 582.4H536.7M532.2 542.75H536.7M532.2 503.1H536.7M532.2 463.45H536.7M534.1 562.57H536.7M534.1 522.92H536.7M534.1 483.27H536.7M536.7 582.4V586.1M572.2 582.4V586.1M607.7 582.4V586.1M643.2 582.4V586.1M678.7 582.4V586.1" stroke="#000" stroke-width="1.5999999999999999" fill="none"/>
<text transform="matrix(1.0500 0 0 1 507.00 586.95)" font-size="12.00" font-weight="bold">0.00</text>
<text transform="matrix(1.0500 0 0 1 506.81 547.30)" font-size="12.00" font-weight="bold">0.25</text>
<text transform="matrix(1.0500 0 0 1 507.00 507.65)" font-size="12.00" font-weight="bold">0.50</text>
<text transform="matrix(1.0500 0 0 1 506.81 468.00)" font-size="12.00" font-weight="bold">0.75</text>
<text transform="matrix(1.0000 0 0 1 533.26 599.08)" font-size="12.40" font-weight="bold">0</text>
<text transform="matrix(1.0000 0 0 1 568.51 598.96)" font-size="12.40" font-weight="bold">1</text>
<text transform="matrix(1.0000 0 0 1 604.29 599.08)" font-size="12.40" font-weight="bold">2</text>
<text transform="matrix(1.0000 0 0 1 639.82 599.08)" font-size="12.40" font-weight="bold">3</text>
<text transform="matrix(1.0000 0 0 1 675.20 598.96)" font-size="12.40" font-weight="bold">4</text>
<text transform="matrix(1.0047 0 0 1 529.65 617.21)" font-size="12.98" font-weight="bold">NP concentration (mg/mL)</text>
<text transform="matrix(0 -0.9875 1 0 500.96 577.72)" font-size="13.05" font-weight="bold">Absorbance  (mAu)</text>
<circle cx="548.1" cy="459.9" r="3.85" fill="#fff" stroke="#222" stroke-width="1.1"/><path d="M544.25 459.9H551.95" stroke="#222" stroke-width="1"/>
<circle cx="548.1" cy="471.15" r="4.4" fill="#a8a8a8"/>
<circle cx="548.1" cy="482.4" r="4.4" fill="#000"/>
<text transform="matrix(1.0500 0 0 1 558.08 463.20)" font-size="11.00" fill="#262626">SILY 0%</text>
<text transform="matrix(1.0500 0 0 1 558.08 474.55)" font-size="11.00" fill="#262626">SILY 50%</text>
<text transform="matrix(1.0500 0 0 1 558.08 485.90)" font-size="11.00" fill="#262626">SILY 200%</text>
<path d="M571.8 508.3V523.7" stroke="#ff0000" stroke-width="1.9"/><path d="M568.2 522.7H575.4L571.8 530.7Z" fill="#ff0000"/>
<path d="M572.2 533.23V541.16M568.1 533.23H576.3M568.1 541.16H576.3" stroke="#111" stroke-width="1.2" fill="none"/>
<path d="M538.92 575.74L541.14 572.41L545.58 566.7L554.45 557.34L572.2 537.2L607.7 532.12L678.7 513.57" stroke="#222" stroke-width="1.15" fill="none"/>
<circle cx="538.92" cy="575.74" r="4.45" fill="#000"/>
<circle cx="541.14" cy="572.41" r="4.45" fill="#000"/>
<circle cx="545.58" cy="566.7" r="4.45" fill="#000"/>
<circle cx="554.45" cy="557.34" r="4.45" fill="#000"/>
<circle cx="572.2" cy="537.2" r="4.45" fill="#000"/>
<circle cx="607.7" cy="532.12" r="4.45" fill="#000"/>
<circle cx="678.7" cy="513.57" r="4.45" fill="#000"/>
<path d="M538.92 579.55L541.14 574.63L545.58 567.33L554.45 558.45L572.2 556.71L607.7 542.75L678.7 534.98" stroke="#b8b8b8" stroke-width="1.15" fill="none"/>
<circle cx="538.92" cy="579.55" r="4.4" fill="#a8a8a8"/>
<circle cx="541.14" cy="574.63" r="4.4" fill="#a8a8a8"/>
<circle cx="545.58" cy="567.33" r="4.4" fill="#a8a8a8"/>
<circle cx="554.45" cy="558.45" r="4.4" fill="#a8a8a8"/>
<circle cx="572.2" cy="556.71" r="4.4" fill="#a8a8a8"/>
<circle cx="607.7" cy="542.75" r="4.4" fill="#a8a8a8"/>
<circle cx="678.7" cy="534.98" r="4.4" fill="#a8a8a8"/>
<path d="M538.92 578.43L541.14 575.74L545.58 572.41L554.45 566.7L572.2 561.15L607.7 567.17L678.7 557.82" stroke="#222" stroke-width="1.15" fill="none"/>
<circle cx="538.92" cy="578.43" r="3.85" fill="none" stroke="#222" stroke-width="1.1"/>
<circle cx="541.14" cy="575.74" r="3.85" fill="none" stroke="#222" stroke-width="1.1"/>
<circle cx="545.58" cy="572.41" r="3.85" fill="none" stroke="#222" stroke-width="1.1"/>
<circle cx="554.45" cy="566.7" r="3.85" fill="none" stroke="#222" stroke-width="1.1"/>
<circle cx="572.2" cy="561.15" r="3.85" fill="none" stroke="#222" stroke-width="1.1"/>
<circle cx="607.7" cy="567.17" r="3.85" fill="none" stroke="#222" stroke-width="1.1"/>
<circle cx="678.7" cy="557.82" r="3.85" fill="none" stroke="#222" stroke-width="1.1"/>
<path d="M131.6 676V811.5H423.9" stroke="#000" stroke-width="2.1" fill="none"/>
<text transform="matrix(0.9800 0 0 1 105.50 816.46)" font-size="13.30" font-weight="bold">0.0</text>
<text transform="matrix(0.9800 0 0 1 105.37 789.56)" font-size="13.30" font-weight="bold">0.1</text>
<text transform="matrix(0.9800 0 0 1 105.50 762.66)" font-size="13.30" font-weight="bold">0.2</text>
<text transform="matrix(0.9800 0 0 1 105.44 735.76)" font-size="13.30" font-weight="bold">0.3</text>
<text transform="matrix(0.9800 0 0 1 105.05 708.86)" font-size="13.30" font-weight="bold">0.4</text>
<text transform="matrix(0.9800 0 0 1 105.37 681.96)" font-size="13.30" font-weight="bold">0.5</text>
<path d="M125.4 811.5H131.6M125.4 784.6H131.6M125.4 757.7H131.6M125.4 730.8H131.6M125.4 703.9H131.6M125.4 677H131.6M183.4 811.5V816.9M277.3 811.5V816.9M371.0 811.5V816.9" stroke="#000" stroke-width="2.1" fill="none"/>
<path d="M156.1 703.4V702.7M150.3 702.7H162.2" stroke="#333" stroke-width="1.3" fill="none"/>
<rect x="145.05" y="704.45" width="22.1" height="107.05" fill="#fff" stroke="#000" stroke-width="2.1"/>
<path d="M183.55 705V702.7M177.5 702.7H189.4" stroke="#666" stroke-width="1.3" fill="none"/>
<rect x="172.15" y="706.05" width="22.8" height="105.45" fill="#000" stroke="#000" stroke-width="2.1"/>
<path d="M210.8 708.3V707.6M204.7 707.6H216.6" stroke="#666" stroke-width="1.3" fill="none"/>
<rect x="199.45" y="709.35" width="22.7" height="102.15" fill="#a5a5a9" stroke="#000" stroke-width="2.1"/>
<path d="M250.15 720.9V713.6M244 713.6H255.8" stroke="#333" stroke-width="1.3" fill="none"/>
<rect x="239.75" y="721.95" width="20.8" height="89.55" fill="#fff" stroke="#000" stroke-width="2.1"/>
<path d="M277.4 688.2V686.5M271.2 686.5H283.5" stroke="#666" stroke-width="1.3" fill="none"/>
<rect x="266.55" y="689.25" width="21.7" height="122.25" fill="#000" stroke="#000" stroke-width="2.1"/>
<path d="M304.65 699.1V691.4M298.2 691.4H310.3" stroke="#666" stroke-width="1.3" fill="none"/>
<rect x="293.95" y="700.15" width="21.4" height="111.35" fill="#a5a5a9" stroke="#000" stroke-width="2.1"/>
<path d="M344.15 748.6V745.5M337.8 745.5H349.5" stroke="#333" stroke-width="1.3" fill="none"/>
<rect x="333.65" y="749.65" width="21" height="61.85" fill="#fff" stroke="#000" stroke-width="2.1"/>
<path d="M371.15 725.7V725M365.2 725H376.9" stroke="#666" stroke-width="1.3" fill="none"/>
<rect x="360.05" y="726.75" width="22.2" height="84.75" fill="#000" stroke="#000" stroke-width="2.1"/>
<path d="M398.4 735.4V727.4M392 727.4H403.7" stroke="#666" stroke-width="1.3" fill="none"/>
<rect x="387.25" y="736.45" width="22.3" height="75.05" fill="#a5a5a9" stroke="#000" stroke-width="2.1"/>
<text transform="matrix(0.9830 0 0 1 137.27 830.62)" font-size="13.40" font-weight="bold">Collagen Plate</text>
<text transform="matrix(0.9719 0 0 1 256.25 831.26)" font-size="13.52" font-weight="bold">MCF-7</text>
<text transform="matrix(0.9476 0 0 1 352.97 831.40)" font-size="13.91" font-weight="bold">T-47D</text>
<text transform="matrix(0 -1.0036 1 0 96.76 811.58)" font-size="14.97" font-weight="bold">Absorbance  (mAu)</text>
<path d="M249.6 670.5V665.5H304.5V670.5M249.6 705.6V677.6H275.6V683.5M278.1 683.5V677.6H304.5V686.1M343.4 707.3V704.8H398.5V725M343.9 741.9V716.5H378V719.6" stroke="#1a1a1a" stroke-width="1.4" fill="none"/>
<polygon points="271.00,658.90 271.71,660.73 273.66,660.83 272.14,662.07 272.65,663.97 271.00,662.90 269.35,663.97 269.86,662.07 268.34,660.83 270.29,660.73" fill="#1a1a1a"/>
<polygon points="276.90,658.90 277.61,660.73 279.56,660.83 278.04,662.07 278.55,663.97 276.90,662.90 275.25,663.97 275.76,662.07 274.24,660.83 276.19,660.73" fill="#1a1a1a"/>
<polygon points="282.70,658.90 283.41,660.73 285.36,660.83 283.84,662.07 284.35,663.97 282.70,662.90 281.05,663.97 281.56,662.07 280.04,660.83 281.99,660.73" fill="#1a1a1a"/>
<polygon points="250.20,669.80 250.91,671.63 252.86,671.73 251.34,672.97 251.85,674.87 250.20,673.80 248.55,674.87 249.06,672.97 247.54,671.73 249.49,671.63" fill="#1a1a1a"/>
<polygon points="255.90,669.80 256.61,671.63 258.56,671.73 257.04,672.97 257.55,674.87 255.90,673.80 254.25,674.87 254.76,672.97 253.24,671.73 255.19,671.63" fill="#1a1a1a"/>
<polygon points="261.80,669.80 262.51,671.63 264.46,671.73 262.94,672.97 263.45,674.87 261.80,673.80 260.15,674.87 260.66,672.97 259.14,671.73 261.09,671.63" fill="#1a1a1a"/>
<polygon points="267.50,669.80 268.21,671.63 270.16,671.73 268.64,672.97 269.15,674.87 267.50,673.80 265.85,674.87 266.36,672.97 264.84,671.73 266.79,671.63" fill="#1a1a1a"/>
<polygon points="290.30,669.80 291.01,671.63 292.96,671.73 291.44,672.97 291.95,674.87 290.30,673.80 288.65,674.87 289.16,672.97 287.64,671.73 289.59,671.63" fill="#1a1a1a"/>
<polygon points="375.40,697.80 376.11,699.63 378.06,699.73 376.54,700.97 377.05,702.87 375.40,701.80 373.75,702.87 374.26,700.97 372.74,699.73 374.69,699.63" fill="#1a1a1a"/>
<polygon points="356.80,710.10 357.51,711.93 359.46,712.03 357.94,713.27 358.45,715.17 356.80,714.10 355.15,715.17 355.66,713.27 354.14,712.03 356.09,711.93" fill="#1a1a1a"/>
<polygon points="362.40,710.10 363.11,711.93 365.06,712.03 363.54,713.27 364.05,715.17 362.40,714.10 360.75,715.17 361.26,713.27 359.74,712.03 361.69,711.93" fill="#1a1a1a"/>
<polygon points="368.30,710.10 369.01,711.93 370.96,712.03 369.44,713.27 369.95,715.17 368.30,714.10 366.65,715.17 367.16,713.27 365.64,712.03 367.59,711.93" fill="#1a1a1a"/>
<rect x="449.1" y="723" width="13.3" height="7.6" fill="#fff" stroke="#000" stroke-width="1.8"/>
<text transform="matrix(1.1278 0 0 1 470.70 731.34)" font-size="12.19" fill="#1e1e1e">NLC SILY 200% - 1 mg/ml</text>
<rect x="449.1" y="741" width="13.3" height="7.6" fill="#000" stroke="#000" stroke-width="1.8"/>
<text transform="matrix(1.0735 0 0 1 471.41 749.33)" font-size="12.73" fill="#1e1e1e">pNIPAM NP SILY 200% - 1 mg/ml</text>
<rect x="449.1" y="759.1" width="13.3" height="7.6" fill="#a5a5a9" stroke="#000" stroke-width="1.8"/>
<text transform="matrix(1.0655 0 0 1 471.62 766.83)" font-size="12.73" fill="#1e1e1e">Hybrid NP SILY 200% - 1 mg/ml</text>
</svg></body></html>
